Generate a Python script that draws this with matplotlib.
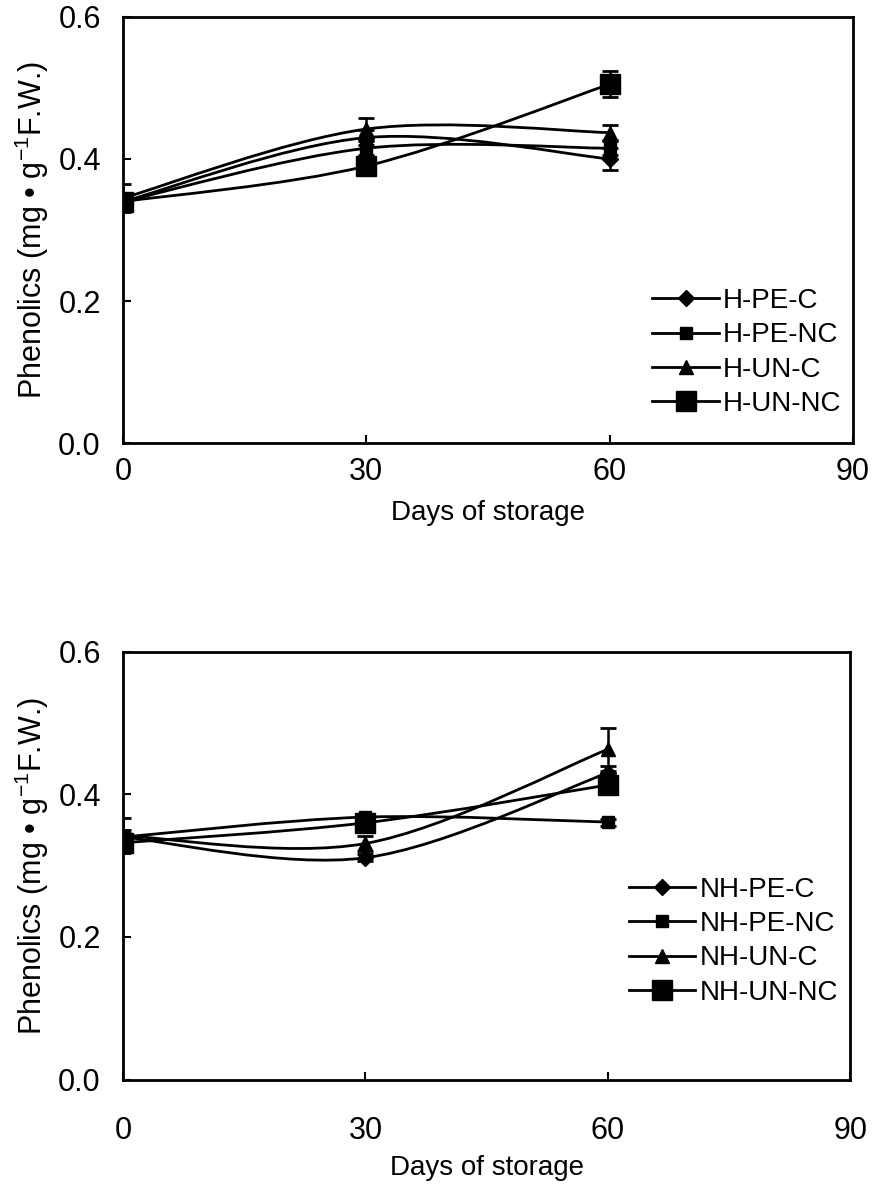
import matplotlib
matplotlib.use('Agg')
import matplotlib.pyplot as plt
from matplotlib.path import Path
from matplotlib.patches import PathPatch
from matplotlib.lines import Line2D

plt.rcParams['font.family'] = ['Liberation Sans', 'DejaVu Sans']
plt.rcParams['mathtext.fontset'] = 'custom'
plt.rcParams['mathtext.rm'] = 'Liberation Sans'

days = [0, 30, 60]

# 上图 (H)
top_names = ['H-PE-C', 'H-PE-NC', 'H-UN-C', 'H-UN-NC']
top_vals = [
    [0.340, 0.430, 0.400],
    [0.340, 0.415, 0.415],
    [0.345, 0.442, 0.437],
    [0.340, 0.390, 0.505],
]
top_err = [
    [0.010, 0.010, 0.015],
    [0.010, 0.010, 0.010],
    [0.020, 0.015, 0.010],
    [0.010, 0.010, 0.018],
]

# 下图 (NH)
bot_names = ['NH-PE-C', 'NH-PE-NC', 'NH-UN-C', 'NH-UN-NC']
bot_vals = [
    [0.340, 0.311, 0.430],
    [0.340, 0.368, 0.361],
    [0.342, 0.331, 0.463],
    [0.332, 0.360, 0.413],
]
bot_err = [
    [0.010, 0.005, 0.010],
    [0.005, 0.005, 0.005],
    [0.025, 0.010, 0.030],
    [0.010, 0.010, 0.010],
]

# 标记样式：菱形、小方块、三角、大方块
markers = [('D', 8), ('s', 8), ('^', 10), ('s', 15)]


def smooth_path(x, y):
    # Excel风格平滑曲线 (Catmull-Rom -> Bezier)
    pts = list(zip(x, y))
    verts = [pts[0]]
    codes = [Path.MOVETO]
    n = len(pts)
    for i in range(n - 1):
        p0 = pts[i - 1] if i > 0 else pts[i]
        p1 = pts[i]
        p2 = pts[i + 1]
        p3 = pts[i + 2] if i + 2 < n else pts[i + 1]
        c1 = (p1[0] + (p2[0] - p0[0]) / 6, p1[1] + (p2[1] - p0[1]) / 6)
        c2 = (p2[0] - (p3[0] - p1[0]) / 6, p2[1] - (p3[1] - p1[1]) / 6)
        verts += [c1, c2, p2]
        codes += [Path.CURVE4] * 3
    return Path(verts, codes)


fig = plt.figure(figsize=(8.73, 11.89), dpi=100)
ax1 = fig.add_axes([0.141, 0.627, 0.836, 0.359])
ax2 = fig.add_axes([0.141, 0.092, 0.833, 0.360])


def draw_panel(ax, names, vals, errs, leg_anchor, xpad, xlabpad):
    handles = []
    for name, v, e, (m, ms) in zip(names, vals, errs, markers):
        ax.add_patch(PathPatch(smooth_path(days, v), fill=False,
                               edgecolor='black', lw=2.0, zorder=2))
        ax.errorbar(days, v, yerr=e, fmt='none', ecolor='black',
                    elinewidth=1.8, capsize=6, capthick=2, zorder=3)
        ax.plot(days, v, linestyle='none', marker=m, markersize=ms,
                color='black', zorder=4)
        handles.append(Line2D([], [], color='black', lw=2.0,
                              marker=m, markersize=ms))
    ax.set_xlim(0, 90)
    ax.set_ylim(0, 0.6)
    ax.set_xticks([0, 30, 60, 90])
    ax.set_yticks([0.0, 0.2, 0.4, 0.6])
    ax.set_yticklabels(['0.0', '0.2', '0.4', '0.6'])
    ax.tick_params(direction='in', length=6, width=1.5, labelsize=22)
    ax.tick_params(axis='x', pad=xpad)
    ax.tick_params(axis='y', pad=16)
    for s in ax.spines.values():
        s.set_linewidth(2)
    ax.set_xlabel('Days of storage', fontsize=20, labelpad=xlabpad)
    ax.set_ylabel('Phenolics (mg \u2022 g$^{-1}$F.W.)', fontsize=22, labelpad=5)
    ax.legend(handles, names, loc='upper left', bbox_to_anchor=leg_anchor,
              frameon=False, fontsize=20, handlelength=2.4, handletextpad=0.15,
              labelspacing=0.3, borderaxespad=0)


draw_panel(ax1, top_names, top_vals, top_err, (0.71, 0.39), 10, 9)
draw_panel(ax2, bot_names, bot_vals, bot_err, (0.68, 0.50), 26, 7)

fig.savefig('out.png', dpi=100)
